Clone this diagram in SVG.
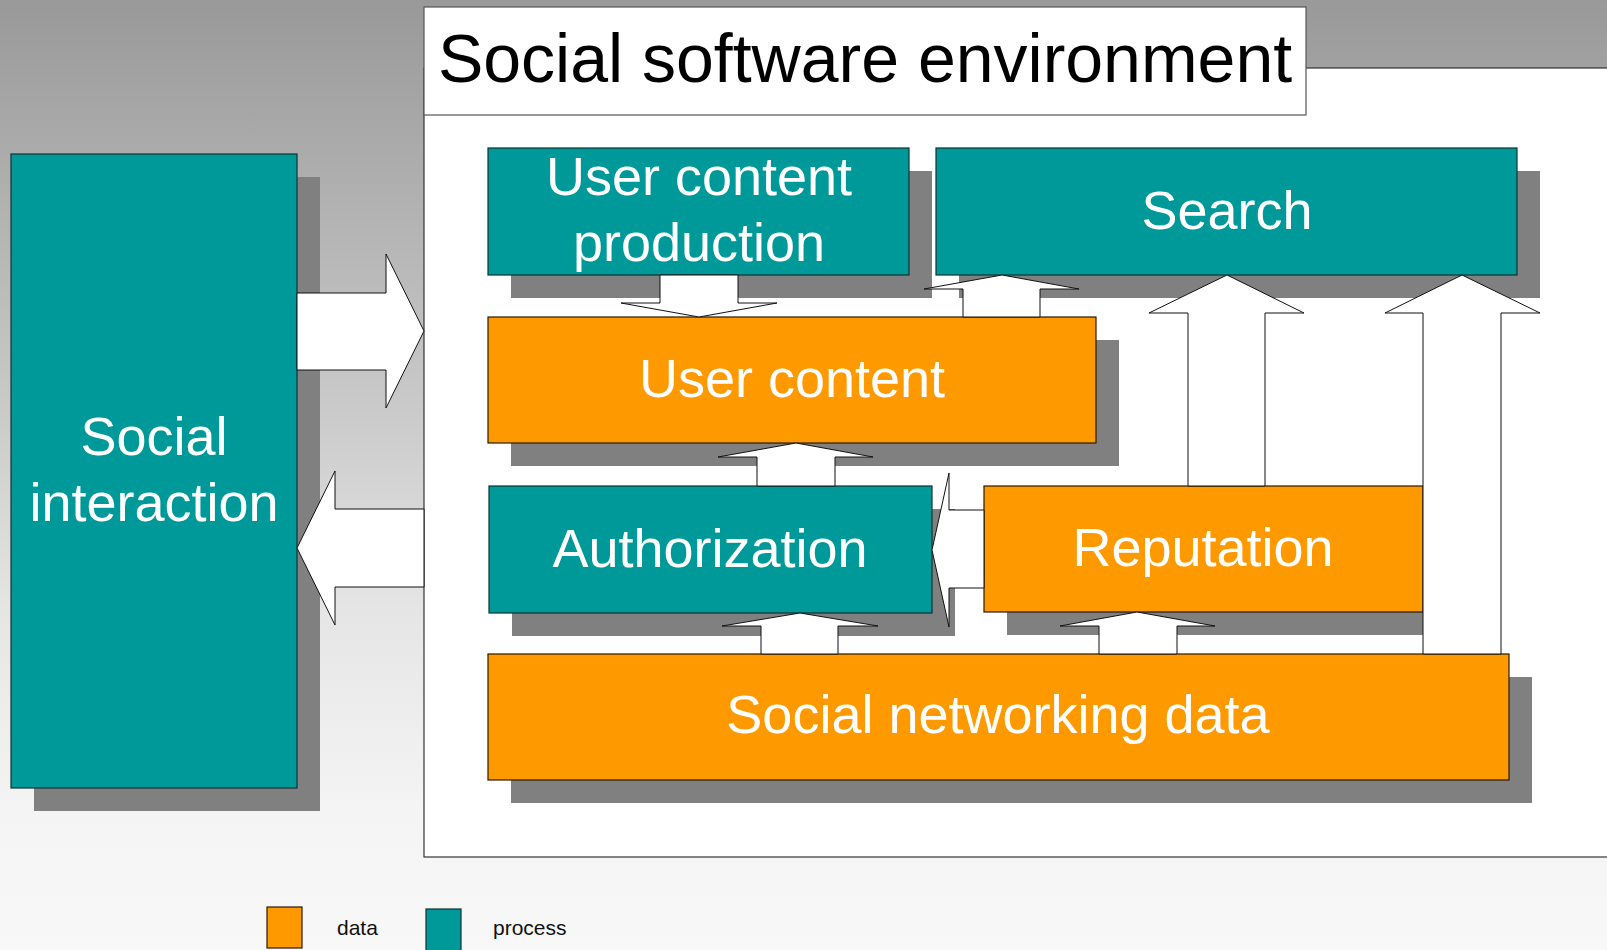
<svg xmlns="http://www.w3.org/2000/svg" width="1607" height="950" viewBox="0 0 1607 950">
<defs>
<linearGradient id="bg" x1="0" y1="0" x2="0" y2="950" gradientUnits="userSpaceOnUse">
<stop offset="0" stop-color="#999999"/>
<stop offset="0.44" stop-color="#cbcbcb"/>
<stop offset="0.64" stop-color="#e5e5e5"/>
<stop offset="0.85" stop-color="#f4f4f4"/>
<stop offset="1" stop-color="#f8f8f8"/>
</linearGradient>
<style>
.shadow{fill:#808080}
.proc{fill:#009999;stroke:#0d3333;stroke-width:1.2}
.data{fill:#ff9900;stroke:#2a1a00;stroke-width:1.2}
.lbl{font-family:"Liberation Sans",Arial,sans-serif;font-size:54px;fill:#ffffff;text-anchor:middle}
.arrow{fill:#ffffff;stroke:#111111;stroke-width:1;stroke-linejoin:miter}
.leg{font-family:"Liberation Sans",Arial,sans-serif;font-size:21px;fill:#111111}
</style>
</defs>
<rect x="0" y="0" width="1607" height="950" fill="url(#bg)"/>
<g id="environment">
<rect x="424" y="68" width="1200" height="789" fill="#ffffff" stroke="#333333" stroke-width="1.2"/>
<rect x="424" y="7" width="882" height="108" fill="#ffffff" stroke="#555555" stroke-width="1.2"/>
<text x="865" y="82" font-family="Liberation Sans, Arial, sans-serif" font-size="68" fill="#000000" text-anchor="middle">Social software environment</text>
</g>
<g id="shadows">
<rect class="shadow" x="34" y="177" width="286" height="634"/>
<rect class="shadow" x="511" y="171" width="421" height="127"/>
<rect class="shadow" x="959" y="171" width="581" height="127"/>
<rect class="shadow" x="511" y="340" width="608" height="126"/>
<rect class="shadow" x="512" y="509" width="443" height="127"/>
<rect class="shadow" x="1007" y="509" width="439" height="126"/>
<rect class="shadow" x="511" y="677" width="1021" height="126"/>
</g>
<g id="social-interaction">
<rect class="proc" x="11" y="154" width="286" height="634"/>
<text class="lbl" x="154" y="455">Social</text>
<text class="lbl" x="154" y="521">interaction</text>
</g>
<g id="user-content-production">
<rect class="proc" x="488" y="148" width="421" height="127"/>
<text class="lbl" x="699" y="195">User content</text>
<text class="lbl" x="699" y="261">production</text>
</g>
<g id="search">
<rect class="proc" x="936" y="148" width="581" height="127"/>
<text class="lbl" x="1227" y="229">Search</text>
</g>
<g id="user-content">
<rect class="data" x="488" y="317" width="608" height="126"/>
<text class="lbl" x="792" y="397">User content</text>
</g>
<g id="authorization">
<rect class="proc" x="489" y="486" width="443" height="127"/>
<text class="lbl" x="710" y="567">Authorization</text>
</g>
<g id="reputation">
<rect class="data" x="984" y="486" width="439" height="126"/>
<text class="lbl" x="1203" y="566">Reputation</text>
</g>
<g id="social-networking-data">
<rect class="data" x="488" y="654" width="1021" height="126"/>
<text class="lbl" x="998" y="733">Social networking data</text>
</g>
<g id="connectors">
<polygon class="arrow" points="297,293 386,293 386,254 424,331 386,408 386,370 297,370"/>
<polygon class="arrow" points="424,509 335,509 335,471 297,548 335,625 335,587 424,587"/>
<polygon class="arrow" points="660,275 738,275 738,303 777,303 699,317 621,303 660,303"/>
<polygon class="arrow" points="963,317 963,289 924,289 1002,275 1079,289 1040,289 1040,317"/>
<polygon class="arrow" points="757,486 757,457 718,457 796,443 873,457 835,457 835,486"/>
<polygon class="arrow" points="761,654 761,626 722,626 800,613 878,626 838,626 838,654"/>
<polygon class="arrow" points="1099,654 1099,626 1060,626 1137,612 1215,626 1177,626 1177,654"/>
<polygon class="arrow" points="1188,486 1188,313 1149,313 1227,275 1304,313 1265,313 1265,486"/>
<polygon class="arrow" points="1423,654 1423,313 1385,313 1462,275 1540,313 1501,313 1501,654"/>
<polygon class="arrow" points="984,510 949,510 949,473 932,550 949,627 949,588 984,588"/>
</g>
<g id="legend">
<rect class="data" x="267" y="907" width="35" height="41"/>
<text class="leg" x="337" y="935">data</text>
<rect class="proc" x="426" y="909" width="35" height="45"/>
<text class="leg" x="493" y="935">process</text>
</g>
</svg>
